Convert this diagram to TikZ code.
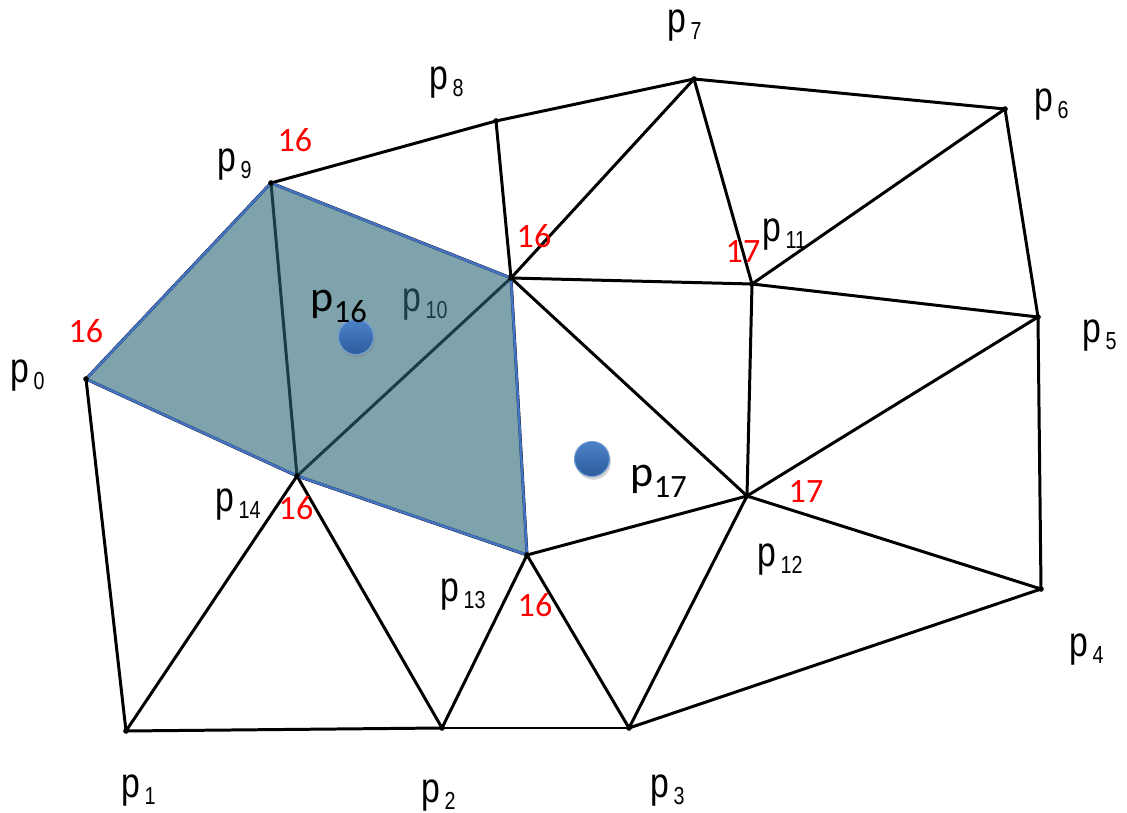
\documentclass[tikz,border=0pt]{standalone}
\usepackage{fontspec}
\newfontfamily\vtxfont[FakeStretch=0.8]{Liberation Sans}
\newfontfamily\calfont{Carlito}
\usetikzlibrary{shadows}

\definecolor{cellfill}{RGB}{42,102,119}
\definecolor{cellline}{RGB}{68,114,196}
\definecolor{dotlight}{RGB}{76,130,202}
\definecolor{dotdark}{RGB}{44,92,156}

\newcommand{\vlab}[1]{{\fontsize{12}{12}\selectfont p}\kern1.2pt\raisebox{-1.8pt}{\fontsize{7}{7}\selectfont #1}}
\newcommand{\qlab}[1]{p\raisebox{-3.1pt}{\fontsize{9.25}{9.25}\selectfont #1}}

\tikzstyle{edge} = [line width=0.85pt, black]
\tikzstyle{cell} = [fill=cellfill, fill opacity=0.6]
\tikzstyle{cellborder} = [draw=cellline, line width=0.7pt, line join=round]
\tikzstyle{vlabel} = [anchor=base west, inner sep=0pt, font=\vtxfont]
\tikzstyle{count} = [anchor=base west, inner sep=0pt, text=red, font=\calfont\fontsize{9.7}{10}\selectfont]
\tikzstyle{query} = [circle, minimum size=0.35cm, inner sep=0pt, top color=dotlight, bottom color=dotdark, draw=dotlight!80!white, line width=0.3pt, drop shadow={shadow xshift=0.4pt, shadow yshift=-0.9pt, opacity=0.35}]
\tikzstyle{qlabel} = [anchor=base west, inner sep=0pt, font=\calfont\fontsize{12.5}{13}\selectfont]

\begin{document}
\begin{tikzpicture}[x=0.01cm, y=-0.01cm]
\useasboundingbox (0,0) rectangle (1127,813);

% Vertices
\coordinate (p0) at (86,379);
\coordinate (p1) at (126,731);
\coordinate (p2) at (442,728);
\coordinate (p3) at (629,728);
\coordinate (p4) at (1041,589);
\coordinate (p5) at (1038,317);
\coordinate (p6) at (1005,109);
\coordinate (p7) at (694,79);
\coordinate (p8) at (496,121);
\coordinate (p9) at (271,183);
\coordinate (p10) at (511,278);
\coordinate (p11) at (752,284);
\coordinate (p12) at (747,496);
\coordinate (p13) at (527,555);
\coordinate (p14) at (297,476);

% Edges
\foreach \a/\b in {p0/p1, p1/p2, p2/p3, p3/p4, p4/p5, p5/p6, p6/p7, p7/p8, p8/p9, p9/p0,
  p0/p14, p9/p14, p9/p10, p8/p10, p10/p7, p7/p11, p11/p6, p10/p11, p11/p5, p11/p12,
  p5/p12, p12/p4, p12/p3, p12/p13, p10/p12, p10/p13, p10/p14, p13/p3, p13/p2,
  p13/p14, p14/p2, p14/p1}
  \draw [edge] (\a) -- (\b);

% Vertex labels
\node (l0) [vlabel] at (10,383) {\vlab{0}};
\node (l1) [vlabel] at (121,798) {\vlab{1}};
\node (l2) [vlabel] at (421,803) {\vlab{2}};
\node (l3) [vlabel] at (650,798) {\vlab{3}};
\node (l4) [vlabel] at (1069,657) {\vlab{4}};
\node (l5) [vlabel] at (1082,343) {\vlab{5}};
\node (l6) [vlabel] at (1034,112) {\vlab{6}};
\node (l7) [vlabel] at (667,33) {\vlab{7}};
\node (l8) [vlabel] at (429,90) {\vlab{8}};
\node (l9) [vlabel] at (217,172) {\vlab{9}};
\node (l10) [vlabel] at (402,312) {\vlab{10}};
\node (l11) [vlabel] at (762,242) {\vlab{11}};
\node (l12) [vlabel] at (757,567) {\vlab{12}};
\node (l13) [vlabel] at (440,602) {\vlab{13}};
\node (l14) [vlabel] at (215,512) {\vlab{14}};

% Shaded cell
\fill [cell] (p0) -- (p9) -- (p10) -- (p13) -- (p14) -- cycle;
\draw [cellborder] (p0) -- (p9) -- (p10) -- (p13) -- (p14) -- cycle;

% Vertex dots
\foreach \v in {p0,p1,p2,p3,p4,p5,p6,p7,p8,p9,p10,p11,p12,p13,p14}
  \fill (\v) circle (0.8pt);

% Counts
\node (c9) [count] at (277,152) {16};
\node (c0) [count] at (68,343) {16};
\node (c10) [count] at (516,248) {16};
\node (c14) [count] at (278,520) {16};
\node (c13) [count] at (517,617) {16};
\node (c11) [count] at (725,263) {17};
\node (c12) [count] at (788,503) {17};

% Query points
\node (q16) [query] at (356,337) {};
\node (q17) [query] at (592,459) {};
\node (t16) [qlabel] at (310,312) {\qlab{16}};
\node (t17) [qlabel] at (630,487) {\qlab{17}};

\end{tikzpicture}
\end{document}
